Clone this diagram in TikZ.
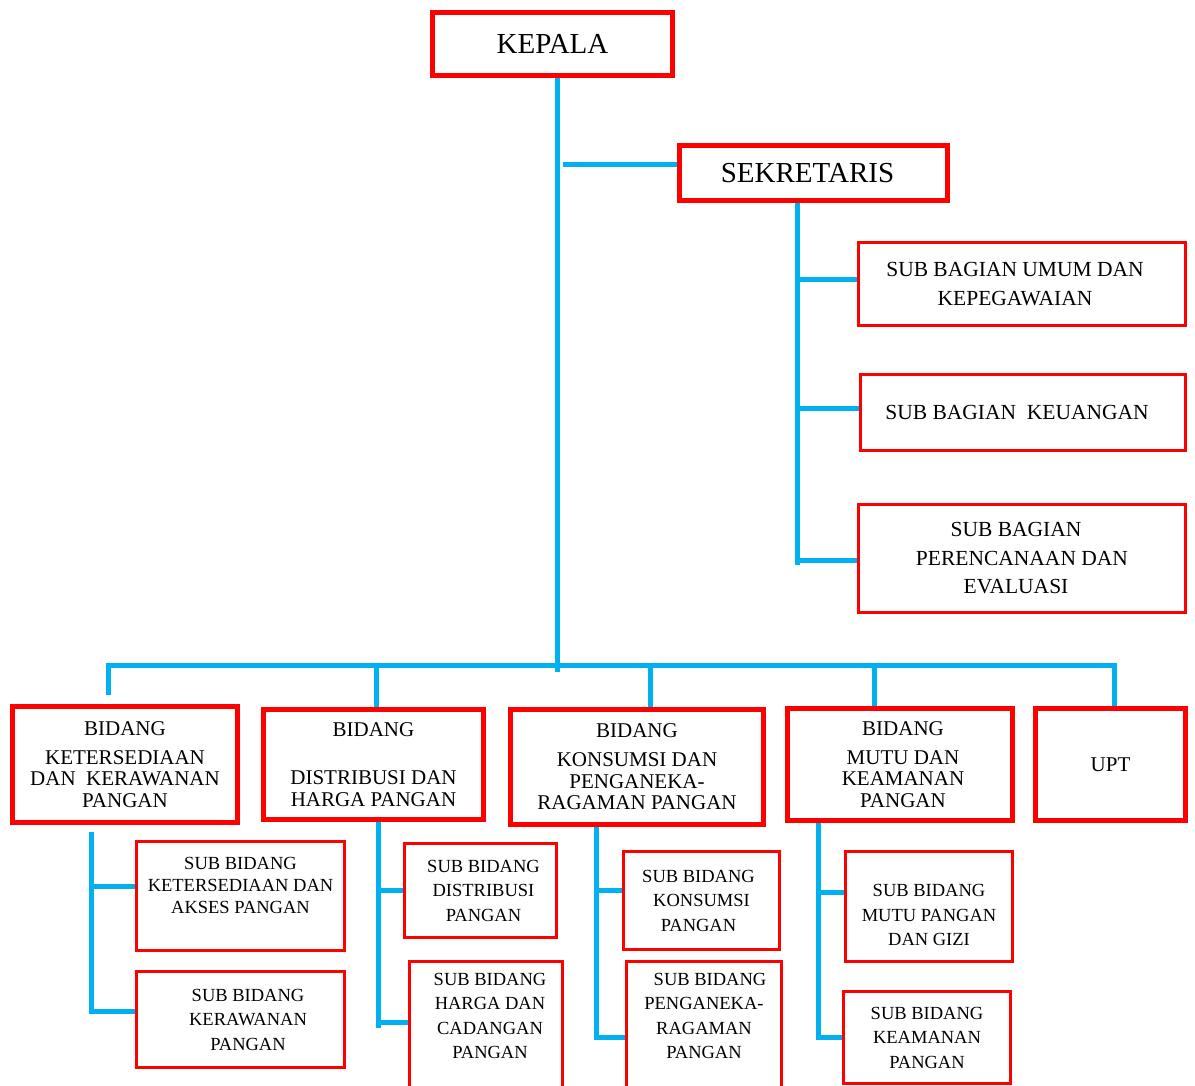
\documentclass[tikz,border=0pt]{standalone}
\usepackage{fontspec}
\setmainfont{Liberation Serif}
\definecolor{orgred}{RGB}{255,0,0}
\definecolor{orgblue}{RGB}{0,176,240}
\tikzset{
  bigbox/.style={draw=orgred, line width=5pt, inner sep=0pt, align=center, fill=white},
  topbox/.style={bigbox, font=\fontsize{29}{34}\selectfont},
  bidbox/.style={bigbox, font=\fontsize{21}{21.5}\selectfont},
  sekbox/.style={draw=orgred, line width=3pt, inner sep=0pt, align=center, fill=white, font=\fontsize{21.5}{28.5}\selectfont},
  subbox/.style={draw=orgred, line width=3pt, inner sep=0pt, align=center, fill=white, font=\fontsize{18.5}{24.5}\selectfont},
  conn/.style={draw=orgblue, line width=5pt}
}
\begin{document}
\begin{tikzpicture}[x=1pt,y=-1pt]
\useasboundingbox (0,0) rectangle (1195,1086);

% top level
\node[topbox, minimum width=240pt, minimum height=63pt] (kepala) at (552.5,44) {KEPALA};
\node[topbox, minimum width=268pt, minimum height=55pt] (sek) at (813.5,173) {SEKRETARIS\hspace*{12pt}};

% sekretariat sub sections
\node[sekbox, minimum width=327pt, minimum height=83pt] (umum) at (1022,284) {SUB BAGIAN UMUM DAN\hspace*{14pt}\\KEPEGAWAIAN\hspace*{14pt}};
\node[sekbox, minimum width=325pt, minimum height=76pt] (keu) at (1023,412.5) {SUB BAGIAN\ \ KEUANGAN\hspace*{12pt}};
\node[sekbox, minimum width=327pt, minimum height=108pt] (per) at (1022,558.5) {SUB BAGIAN\hspace*{12pt}\\PERENCANAAN DAN\hspace*{12pt}\\EVALUASI\hspace*{12pt}};

% bidang
\node[bidbox, minimum width=225pt, minimum height=116pt] (b1) at (125,764.5) {BIDANG\\[7.5pt]KETERSEDIAAN\\DAN\ \ KERAWANAN\\PANGAN};
\node[bidbox, minimum width=220pt, minimum height=110pt] (b2) at (373.5,764.5) {BIDANG\\[26.5pt]DISTRIBUSI DAN\\HARGA PANGAN};
\node[bidbox, minimum width=253pt, minimum height=115pt] (b3) at (637,767) {BIDANG\\[7.5pt]KONSUMSI DAN\\PENGANEKA-\\RAGAMAN PANGAN};
\node[bidbox, minimum width=225pt, minimum height=112pt] (b4) at (900,764.5) {\hspace*{6pt}BIDANG\\[7.5pt]\hspace*{6pt}MUTU DAN\\\hspace*{6pt}KEAMANAN\\\hspace*{6pt}PANGAN};
\node[bidbox, minimum width=150pt, minimum height=112pt] (upt) at (1110.5,764.5) {UPT};

% sub bidang
\node[subbox, font=\fontsize{18.5}{22}\selectfont, minimum width=208pt, minimum height=109pt] (s1a) at (240.5,896) {SUB BIDANG\\KETERSEDIAAN DAN\\AKSES PANGAN\\[-8pt]\strut};
\node[subbox, minimum width=208pt, minimum height=96pt] (s1b) at (240.5,1019.5) {\hspace*{15pt}SUB BIDANG\\\hspace*{15pt}KERAWANAN\\\hspace*{15pt}PANGAN};
\node[subbox, minimum width=152pt, minimum height=94pt] (s2a) at (480.5,890.5) {\hspace*{6pt}SUB BIDANG\\\hspace*{6pt}DISTRIBUSI\\\hspace*{6pt}PANGAN};
\node[subbox, minimum width=153pt, minimum height=137pt] (s2b) at (486,1030) {\hspace*{8pt}SUB BIDANG\\\hspace*{8pt}HARGA DAN\\\hspace*{8pt}CADANGAN\\\hspace*{8pt}PANGAN\\[-4pt]\strut};
\node[subbox, minimum width=156pt, minimum height=98pt] (s3a) at (701.5,900.5) {SUB BIDANG\hspace*{6pt}\\KONSUMSI\hspace*{6pt}\\PANGAN\hspace*{6pt}};
\node[subbox, minimum width=155pt, minimum height=137pt] (s3b) at (704,1030) {\hspace*{12pt}SUB BIDANG\\PENGANEKA-\\RAGAMAN\\PANGAN\\[-4pt]\strut};
\node[subbox, minimum width=167pt, minimum height=110pt] (s4a) at (929,906.5) {\strut\\[-11.5pt]SUB BIDANG\\MUTU PANGAN\\DAN GIZI};
\node[subbox, minimum width=167pt, minimum height=92pt] (s4b) at (927,1037.5) {SUB BIDANG\\KEAMANAN\\PANGAN};

% connector coordinates
\coordinate (tb) at (557,672);
\coordinate (sj) at (563,165);
\coordinate (sb) at (797,565);
\coordinate (busl) at (108,665);
\coordinate (busr) at (1114,665);

% trunk and secretary
\draw[conn] (kepala.south -| tb) -- (tb);
\draw[conn] (sj) -- (sj -| sek.west);
\draw[conn] (sek.south -| sb) -- (sb);
\draw[conn] (sb |- 0,280) -- (umum.west |- 0,280);
\draw[conn] (sb |- 0,408) -- (keu.west |- 0,408);
\draw[conn] (sb |- 0,560) -- (per.west |- 0,560);

% bus to bidang
\draw[conn] (108,695) -- (busl) -- (busr) -- (upt.north -| busr);
\draw[conn] (376,665) -- (b2.north -| 376,0);
\draw[conn] (650,665) -- (b3.north -| 650,0);
\draw[conn] (874,665) -- (b4.north -| 874,0);

% bidang to sub bidang
\draw[conn] (91,832) -- (91,1011) -- (s1b.west |- 0,1011);
\draw[conn] (91,886) -- (s1a.west |- 0,886);
\draw[conn] (b2.south -| 378,0) -- (378,1028);
\draw[conn] (378,890) -- (s2a.west |- 0,890);
\draw[conn] (378,1022) -- (s2b.west |- 0,1022);
\draw[conn] (b3.south -| 596,0) -- (596,1037) -- (s3b.west |- 0,1037);
\draw[conn] (596,890) -- (s3a.west |- 0,890);
\draw[conn] (b4.south -| 818,0) -- (818,1037) -- (s4b.west |- 0,1037);
\draw[conn] (818,892) -- (s4a.west |- 0,892);
\end{tikzpicture}
\end{document}
